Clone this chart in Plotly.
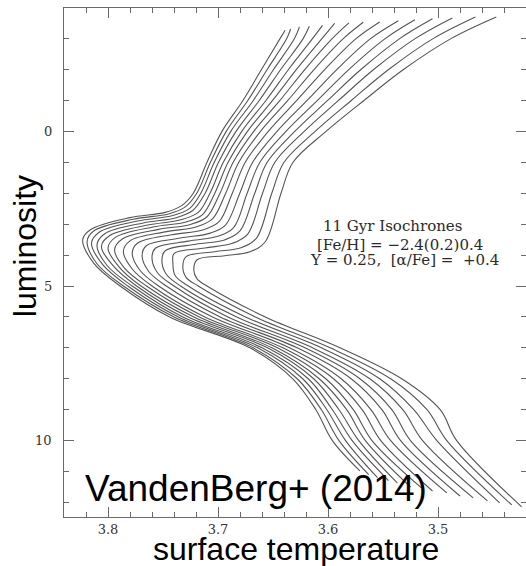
import plotly.graph_objects as go

# 11 Gyr isochrones, [Fe/H] = -2.4 ... +0.4 in steps of 0.2 (15 tracks).
# Each track is described by points read along the isochrone, from the
# faint end of the main sequence up to the tip of the red-giant branch.
feh = [-2.4, -2.2, -2.0, -1.8, -1.6, -1.4, -1.2, -1.0, -0.8, -0.6, -0.4, -0.2, 0.0, 0.2, 0.4]

# lower main sequence
ms_end_x = [3.571, 3.563, 3.555, 3.545, 3.537, 3.525, 3.515, 3.505, 3.492, 3.480, 3.468, 3.455, 3.444, 3.433, 3.424]
ms_end_y = [10.98, 11.10, 11.20, 11.29, 11.37, 11.50, 11.53, 11.63, 11.69, 11.79, 11.85, 11.95, 12.01, 12.08, 12.14]
ms10_x = [3.596, 3.590, 3.584, 3.578, 3.572, 3.566, 3.560, 3.552, 3.543, 3.534, 3.525, 3.514, 3.501, 3.492, 3.483]
ms9_x = [3.611, 3.606, 3.601, 3.596, 3.590, 3.583, 3.577, 3.569, 3.561, 3.551, 3.542, 3.532, 3.522, 3.510, 3.498]
ms8_x = [3.632, 3.628, 3.623, 3.618, 3.613, 3.608, 3.602, 3.595, 3.588, 3.579, 3.571, 3.562, 3.553, 3.543, 3.533]
ms7_x = [3.671, 3.668, 3.664, 3.660, 3.655, 3.651, 3.646, 3.641, 3.635, 3.628, 3.621, 3.614, 3.606, 3.598, 3.589]
ms6_x = [3.744, 3.740, 3.736, 3.732, 3.727, 3.722, 3.717, 3.712, 3.705, 3.698, 3.691, 3.683, 3.675, 3.666, 3.657]
ms5_x = [3.789, 3.786, 3.782, 3.778, 3.774, 3.770, 3.765, 3.760, 3.754, 3.747, 3.740, 3.734, 3.727, 3.718, 3.710]

# turnoff region
to_lo_x = [3.813, 3.810, 3.805, 3.801, 3.795, 3.790, 3.785, 3.778, 3.771, 3.763, 3.755, 3.747, 3.739, 3.729, 3.719]
to_lo_y = [4.26, 4.28, 4.30, 4.33, 4.36, 4.38, 4.42, 4.45, 4.49, 4.53, 4.57, 4.62, 4.66, 4.72, 4.77]
to_x = [3.823, 3.819, 3.815, 3.810, 3.806, 3.800, 3.794, 3.786, 3.778, 3.769, 3.760, 3.751, 3.741, 3.732, 3.722]
to_y = [3.50, 3.56, 3.61, 3.67, 3.72, 3.77, 3.83, 3.88, 3.94, 4.02, 4.10, 4.18, 4.26, 4.37, 4.48]
to_hi_x = [3.816, 3.813, 3.808, 3.803, 3.798, 3.793, 3.787, 3.780, 3.773, 3.765, 3.757, 3.748, 3.740, 3.729, 3.719]
to_hi_y = [3.18, 3.22, 3.26, 3.31, 3.36, 3.42, 3.48, 3.54, 3.61, 3.69, 3.78, 3.86, 3.95, 4.05, 4.15]

# subgiant branch
sgb_mid_x = [3.780, 3.777, 3.773, 3.768, 3.764, 3.759, 3.754, 3.748, 3.742, 3.734, 3.727, 3.720, 3.712, 3.703, 3.694]
sgb_mid_y = [2.79, 2.84, 2.90, 2.96, 3.03, 3.09, 3.17, 3.25, 3.34, 3.45, 3.55, 3.65, 3.77, 3.89, 4.02]
sgb_end_x = [3.748, 3.745, 3.742, 3.738, 3.734, 3.729, 3.725, 3.720, 3.714, 3.707, 3.701, 3.694, 3.687, 3.679, 3.671]
sgb_end_y = [2.62, 2.67, 2.73, 2.79, 2.86, 2.93, 3.01, 3.09, 3.19, 3.29, 3.40, 3.51, 3.62, 3.76, 3.89]

# red-giant branch (x at fixed luminosity levels 2, 1, 0, -1, -2, -3)
rgb_base_x = [3.733, 3.730, 3.726, 3.723, 3.718, 3.714, 3.710, 3.705, 3.699, 3.693, 3.686, 3.680, 3.673, 3.665, 3.657]
rgb_base_y = [2.40, 2.45, 2.50, 2.56, 2.62, 2.69, 2.76, 2.83, 2.92, 3.02, 3.12, 3.22, 3.32, 3.45, 3.57]
rgb2_x = [3.7225, 3.7193, 3.7156, 3.7117, 3.7073, 3.7029, 3.6982, 3.6930, 3.6870, 3.6802, 3.6735, 3.6666, 3.6595, 3.6511, 3.6427]
rgb1_x = [3.7100, 3.7069, 3.7034, 3.6995, 3.6952, 3.6908, 3.6862, 3.6811, 3.6752, 3.6685, 3.6619, 3.6553, 3.6483, 3.6400, 3.6318]
rgb0_x = [3.6964, 3.6925, 3.6884, 3.6836, 3.6784, 3.6732, 3.6675, 3.6614, 3.6543, 3.6463, 3.6382, 3.6302, 3.6216, 3.6117, 3.6018]
rgbm1_x = [3.6773, 3.6729, 3.6679, 3.6625, 3.6564, 3.6504, 3.6437, 3.6365, 3.6284, 3.6190, 3.6096, 3.6003, 3.5904, 3.5788, 3.5673]
rgbm2_x = [3.6605, 3.6553, 3.6495, 3.6430, 3.6359, 3.6288, 3.6211, 3.6127, 3.6030, 3.5920, 3.5811, 3.5701, 3.5585, 3.5449, 3.5314]
rgbm3_x = [3.6436, 3.6375, 3.6305, 3.6226, 3.6141, 3.6055, 3.5962, 3.5861, 3.5745, 3.5613, 3.5480, 3.5348, 3.5208, 3.5045, 3.4882]
tip_x = [3.639, 3.634, 3.626, 3.617, 3.605, 3.594, 3.581, 3.568, 3.553, 3.536, 3.521, 3.505, 3.487, 3.466, 3.447]
tip_y = [-3.27, -3.31, -3.38, -3.40, -3.43, -3.49, -3.51, -3.53, -3.54, -3.58, -3.61, -3.64, -3.67, -3.70, -3.70]

x_tick_vals = [3.8, 3.7, 3.6, 3.5]
x_tick_text = ["3.8", "3.7", "3.6", "3.5"]
y_tick_vals = [0, 5, 10]
y_tick_text = ["0", "5", "10"]

x_range = [3.84, 3.42]
y_range = [12.47, -3.99]

fig = go.Figure()

for i, z in enumerate(feh):
    xs = [ms_end_x[i], ms10_x[i], ms9_x[i], ms8_x[i], ms7_x[i], ms6_x[i], ms5_x[i],
          to_lo_x[i], to_x[i], to_hi_x[i], sgb_mid_x[i], sgb_end_x[i], rgb_base_x[i],
          rgb2_x[i], rgb1_x[i], rgb0_x[i], rgbm1_x[i], rgbm2_x[i], rgbm3_x[i], tip_x[i]]
    ys = [ms_end_y[i], 10, 9, 8, 7, 6, 5,
          to_lo_y[i], to_y[i], to_hi_y[i], sgb_mid_y[i], sgb_end_y[i], rgb_base_y[i],
          2, 1, 0, -1, -2, -3, tip_y[i]]
    fig.add_trace(go.Scatter(
        x=xs, y=ys, mode="lines", name=f"[Fe/H] = {z:+.1f}",
        line=dict(color="#555555", width=1.1, shape="spline", smoothing=1.0),
        hoverinfo="skip", showlegend=False,
    ))

# empty trace so the right-hand tick axis is laid out
fig.add_trace(go.Scatter(x=[None], y=[None], yaxis="y2", mode="lines",
                         showlegend=False, hoverinfo="skip"))

serif = "DejaVu Serif"
sans = "Liberation Sans"
frame = "#6a6a6a"
tick_font = dict(family=serif, size=13, color="#333333")

fig.update_layout(
    xaxis=dict(
        range=x_range, tickvals=x_tick_vals, ticktext=x_tick_text,
        showline=True, linecolor=frame, linewidth=1, mirror="ticks",
        ticks="inside", tickcolor=frame, ticklen=10, tickfont=tick_font,
        minor=dict(dtick=0.02, tick0=3.5, ticks="inside", ticklen=5,
                   tickcolor=frame, showgrid=False),
        showgrid=False, zeroline=False,
    ),
    yaxis=dict(
        range=y_range, tickvals=y_tick_vals, showticklabels=False,
        showline=True, linecolor=frame, linewidth=1, mirror=False,
        ticks="inside", tickcolor=frame, ticklen=10,
        minor=dict(dtick=1, tick0=0, ticks="inside", ticklen=5,
                   tickcolor=frame, showgrid=False),
        showgrid=False, zeroline=False,
    ),
    # tick marks along the right edge (the frame line itself runs past the edge)
    yaxis2=dict(
        range=y_range, overlaying="y", side="right", anchor="x",
        tickvals=y_tick_vals, showticklabels=False, showline=False,
        ticks="inside", tickcolor=frame, ticklen=10,
        minor=dict(dtick=1, tick0=0, ticks="inside", ticklen=5,
                   tickcolor=frame, showgrid=False),
        showgrid=False, zeroline=False,
    ),
)

# y tick labels, set a little further out from the frame
for val, lab in zip(y_tick_vals, y_tick_text):
    fig.add_annotation(x=-0.021, y=val, xref="paper", yref="y", text=lab,
                       showarrow=False, xanchor="right", yanchor="middle",
                       font=tick_font)

notes = [
    ("11 Gyr Isochrones", 3.5414, 3.05),
    ("[Fe/H] = \u22122.4(0.2)0.4", 3.5350, 3.67),
    ("Y = 0.25, \u00a0[\u03b1/Fe] = \u00a0+0.4", 3.5305, 4.15),
]
for text, xx, yy in notes:
    fig.add_annotation(x=xx, y=yy, xref="x", yref="y", text=text, showarrow=False,
                       xanchor="center", yanchor="middle",
                       font=dict(family=serif, size=15, color="#2a2a2a"))

fig.add_annotation(x=3.6655, y=11.55, xref="x", yref="y", text="VandenBerg+ (2014)",
                   showarrow=False, xanchor="center", yanchor="middle",
                   font=dict(family=sans, size=37, color="#000000"))
fig.add_annotation(x=0.503, y=-0.0629, xref="paper", yref="paper",
                   text="surface temperature", showarrow=False,
                   xanchor="center", yanchor="middle",
                   font=dict(family=sans, size=32, color="#000000"))
fig.add_annotation(x=-0.0844, y=0.532, xref="paper", yref="paper",
                   text="luminosity", textangle=-90, showarrow=False,
                   xanchor="center", yanchor="middle",
                   font=dict(family=sans, size=32, color="#000000"))

fig.update_layout(
    width=526, height=566,
    margin=dict(l=64, r=0, t=8, b=49),
    plot_bgcolor="white", paper_bgcolor="white",
)

fig.write_html("out.html")
